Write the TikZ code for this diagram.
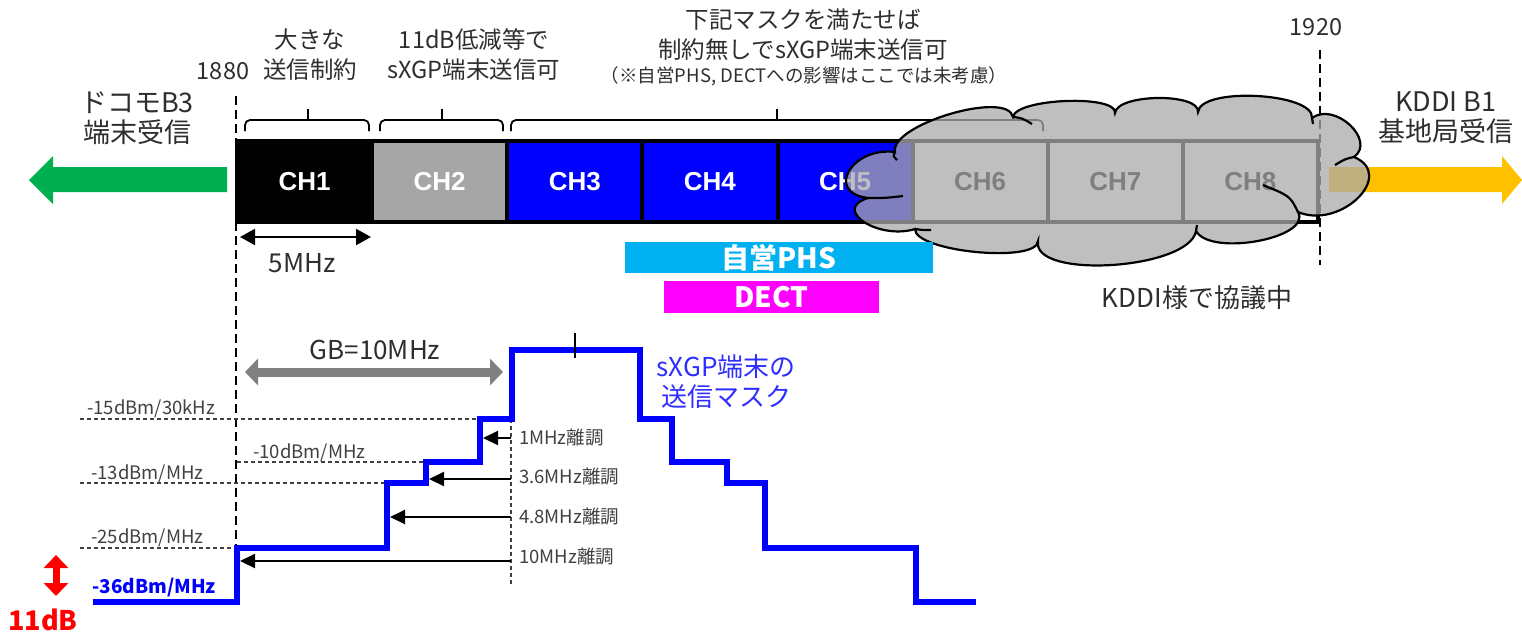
\documentclass[tikz,border=0pt]{standalone}
\usepackage{fontspec}
\setmainfont{Noto Sans CJK JP}
\newfontfamily\chfont{Liberation Sans}
\usetikzlibrary{arrows.meta,calc}
\definecolor{cgreen}{HTML}{00B050}
\definecolor{cyellow}{HTML}{FFC000}
\definecolor{cphs}{HTML}{00B0F0}
\definecolor{cdect}{HTML}{FF00FF}
\definecolor{cchtwo}{HTML}{A6A6A6}
\definecolor{cblue}{HTML}{0000FF}
\definecolor{cgb}{HTML}{808080}
\definecolor{ccloud}{HTML}{AAAAAA}
\definecolor{ctext}{HTML}{2E2E2E}
\definecolor{cdim}{HTML}{404040}
\definecolor{cmask}{HTML}{2E2EFF}
\definecolor{cred}{HTML}{FF0000}
\begin{document}
\begin{tikzpicture}[x=1pt,y=-1pt,
  lbl/.style={font=\fontsize{23.5}{30}\selectfont, text=ctext, align=center, inner sep=0pt},
  biglbl/.style={font=\fontsize{27}{30}\selectfont, text=ctext, align=center, inner sep=0pt},
  midlbl/.style={font=\fontsize{26}{30}\selectfont, text=ctext, align=center, inner sep=0pt},
  notelbl/.style={font=\fontsize{18.5}{22}\selectfont, text=ctext, inner sep=0pt},
  dlbl/.style={font=\fontsize{18.5}{22}\selectfont, text=cdim, inner sep=0pt, anchor=west},
  cell/.style={draw=black, line width=4pt, minimum width=135.125pt, minimum height=81pt, inner sep=0pt,
    font=\chfont\bfseries\fontsize{26}{28}\selectfont, text=white},
  bar/.style={inner sep=0pt, text=white, font=\bfseries\fontsize{28}{30}\selectfont},
  brk/.style={line width=1.8pt, black, rounded corners=5pt},
  bigdash/.style={line width=2.2pt, dash pattern=on 9pt off 5pt, black},
  thindash/.style={line width=1.2pt, dash pattern=on 4pt off 3pt, cdim},
  marr/.style={line width=2pt, black, -{Triangle[length=15pt,width=14pt]}},
  cloudsty/.style={draw=black, line width=2.2pt, fill=ccloud, fill opacity=0.75, draw opacity=1},
  cloudline/.style={draw=black, line width=2.2pt},
  mask/.style={line width=6pt, cblue, line join=miter}
]
\useasboundingbox (0,0) rectangle (1522,633);

% ---------------- top labels
\node[lbl] (t1880) at (223,71) {1880};
\node[lbl] (t1920) at (1316,27) {1920};
\node[lbl] (tch1) at (310,55) {大きな\\送信制約};
\node[lbl] (tch2) at (474,55) {11dB低減等で\\sXGP端末送信可};
\node[lbl] (tch3) at (803,35) {下記マスクを満たせば\\制約無しでsXGP端末送信可};
\node[notelbl] (note) at (804,76) {（※自営PHS, DECTへの影響はここでは未考慮）};
\node[biglbl] (docomo) at (137,118) {ドコモB3\\端末受信};
\node[biglbl] (kddi) at (1446,118) {KDDI B1\\基地局受信};

% ---------------- dashed frequency limits
\draw[bigdash] (236,96) -- (236,548);
\draw[bigdash] (1320,50) -- (1320,265);

% ---------------- brackets
\draw[brk] (245,131) -- (245,120) -- (369,120) -- (369,131);
\draw[brk] (308,120) -- (308,109);
\draw[brk] (380,131) -- (380,120) -- (503,120) -- (503,131);
\draw[brk] (442,120) -- (442,109);
\draw[brk] (511,131) -- (511,120) -- (1043,120) -- (1043,131);
\draw[brk] (777,120) -- (777,109);

% ---------------- side arrows
\fill[cgreen] (227,167) -- (53,167) -- (53,156) -- (29,180) -- (53,204) -- (53,192) -- (227,192) -- cycle;
\fill[cyellow] (1329,167) -- (1502,167) -- (1502,156) -- (1522,180) -- (1502,204) -- (1502,192) -- (1329,192) -- cycle;

% ---------------- channel band
\node[cell, fill=black] (ch1) at (304.56,181.5) {CH1};
\node[cell, fill=cchtwo] (ch2) at (439.69,181.5) {CH2};
\node[cell, fill=cblue] (ch3) at (574.81,181.5) {CH3};
\node[cell, fill=cblue] (ch4) at (709.94,181.5) {CH4};
\node[cell, fill=cblue] (ch5) at (845.06,181.5) {CH5};
\node[cell, fill=white, text=black] (ch6) at (980.19,181.5) {CH6};
\node[cell, fill=white, text=black] (ch7) at (1115.31,181.5) {CH7};
\node[cell, fill=white, text=black] (ch8) at (1250.44,181.5) {CH8};

% ---------------- cloud
\coordinate (c0) at (895,152);
\coordinate (c1) at (1013,117);
\coordinate (c2) at (1115,113);
\coordinate (c3) at (1198,112);
\coordinate (c4) at (1312,118);
\coordinate (c5) at (1354,157);
\coordinate (c6) at (1298,212);
\coordinate (c7) at (1196,231);
\coordinate (c8) at (1038,241);
\coordinate (c9) at (915,229);
\coordinate (c10) at (868,198);
\coordinate (p1) at (950,114);
\coordinate (p2) at (1066,101);
\coordinate (p3) at (1158,98);
\coordinate (p4) at (1257,96);
\coordinate (p5) at (1350,125);
\coordinate (p6) at (1358,198);
\coordinate (p7) at (1258,241);
\coordinate (p8) at (1112,265);
\coordinate (p9) at (976,252);
\coordinate (p10) at (864,222);
\coordinate (p11) at (849,171);
\path[cloudsty] (c0)
 .. controls ($.3333*(c0)+1.3333*(p1)-.6667*(c1)$) and ($1.3333*(p1)+.3333*(c1)-.6667*(c0)$) .. (c1)
 .. controls ($.3333*(c1)+1.3333*(p2)-.6667*(c2)$) and ($1.3333*(p2)+.3333*(c2)-.6667*(c1)$) .. (c2)
 .. controls ($.3333*(c2)+1.3333*(p3)-.6667*(c3)$) and ($1.3333*(p3)+.3333*(c3)-.6667*(c2)$) .. (c3)
 .. controls ($.3333*(c3)+1.3333*(p4)-.6667*(c4)$) and ($1.3333*(p4)+.3333*(c4)-.6667*(c3)$) .. (c4)
 .. controls ($.3333*(c4)+1.3333*(p5)-.6667*(c5)$) and ($1.3333*(p5)+.3333*(c5)-.6667*(c4)$) .. (c5)
 .. controls ($.3333*(c5)+1.3333*(p6)-.6667*(c6)$) and ($1.3333*(p6)+.3333*(c6)-.6667*(c5)$) .. (c6)
 .. controls ($.3333*(c6)+1.3333*(p7)-.6667*(c7)$) and ($1.3333*(p7)+.3333*(c7)-.6667*(c6)$) .. (c7)
 .. controls ($.3333*(c7)+1.3333*(p8)-.6667*(c8)$) and ($1.3333*(p8)+.3333*(c8)-.6667*(c7)$) .. (c8)
 .. controls ($.3333*(c8)+1.3333*(p9)-.6667*(c9)$) and ($1.3333*(p9)+.3333*(c9)-.6667*(c8)$) .. (c9)
 .. controls ($.3333*(c9)+1.3333*(p10)-.6667*(c10)$) and ($1.3333*(p10)+.3333*(c10)-.6667*(c9)$) .. (c10)
 .. controls ($.3333*(c10)+1.3333*(p11)-.6667*(c0)$) and ($1.3333*(p11)+.3333*(c0)-.6667*(c10)$) .. (c0) -- cycle;
\draw[cloudline] (c1) .. controls (1022,118) .. (1032,124);
\draw[cloudline] (c10) .. controls (886,198) .. (903,196);
\draw[cloudline] (c9) .. controls (922,230) .. (931,230);
\draw[cloudline] (c6) .. controls (1290,196) .. (1263,185);
\draw[cloudline] (c5) .. controls (1345,159) .. (1335,165);
\draw[cloudline] (c0) .. controls (893,156) .. (897,160);
\draw[cloudline] (c7) -- (1197,225);
\draw[cloudline] (c4) -- (1313,124);

% ---------------- PHS / DECT bars
\node[bar, fill=cphs, minimum width=308pt, minimum height=31pt] (phs) at (779,257.5) {自営PHS};
\node[bar, fill=cdect, minimum width=215pt, minimum height=32pt] (dect) at (771.5,297) {DECT};
\node[midlbl] (kddinote) at (1197,298) {KDDI様で協議中};

% ---------------- 5 MHz
\coordinate (f0) at (240,237);
\coordinate (f5) at (371,237);
\draw[line width=2.2pt, {Triangle[length=15pt,width=16pt]}-{Triangle[length=15pt,width=16pt]}] (f0) -- (f5);
\node[midlbl] (m5) at (302,263) {5MHz};

% ---------------- guard band
\coordinate (gb0) at (245,372);
\coordinate (gb1) at (503,372);
\draw[line width=9pt, cgb, {Triangle[length=13pt,width=26pt]}-{Triangle[length=13pt,width=26pt]}] (gb0) -- (gb1);
\node[midlbl] (gb) at (375,350) {GB=10MHz};

% ---------------- reference levels
\draw[thindash] (80,419) -- (480,419);
\draw[thindash] (237,462) -- (426,462);
\draw[thindash] (80,483) -- (387,483);
\draw[thindash] (80,548) -- (237,548);
\draw[thindash] (511,419) -- (511,585);
\node[dlbl] (l15) at (87,409) {-15dBm/30kHz};
\node[dlbl] (l10) at (253,453) {-10dBm/MHz};
\node[dlbl] (l13) at (91,474) {-13dBm/MHz};
\node[dlbl] (l25) at (91,538) {-25dBm/MHz};
\node[inner sep=0pt, anchor=west, text=cblue, font=\bfseries\fontsize{19}{22}\selectfont] (l36) at (92,588) {-36dBm/MHz};

% ---------------- mask
\draw[mask] (93,602) -- (237,602) -- (237,548) -- (387,548) -- (387,483) -- (426,483) -- (426,462) -- (480,462) -- (480,419) -- (512,419) -- (512,350) -- (640,350) -- (640,419) -- (672,419) -- (672,462) -- (727,462) -- (727,483) -- (765,483) -- (765,548) -- (916,548) -- (916,602) -- (976,602);
\draw[line width=2pt, black] (575,333) -- (575,358);
\node[midlbl, text=cmask] (masklbl) at (726,382) {sXGP端末の\\送信マスク};

% ---------------- offsets
\coordinate (o1) at (511,438); \coordinate (s1) at (483,438);
\coordinate (o2) at (511,479); \coordinate (s2) at (429,479);
\coordinate (o3) at (511,517); \coordinate (s3) at (390,517);
\coordinate (o4) at (511,561); \coordinate (s4) at (240,561);
\draw[marr] (o1) -- (s1);
\draw[marr] (o2) -- (s2);
\draw[marr] (o3) -- (s3);
\draw[marr] (o4) -- (s4);
\node[dlbl] (r1) at (519,438) {1MHz離調};
\node[dlbl] (r2) at (519,477) {3.6MHz離調};
\node[dlbl] (r3) at (519,517) {4.8MHz離調};
\node[dlbl] (r4) at (519,557) {10MHz離調};

% ---------------- 11 dB
\coordinate (d0) at (56,555);
\coordinate (d1) at (56,596);
\draw[line width=7pt, cred, {Triangle[length=13pt,width=24pt]}-{Triangle[length=13pt,width=24pt]}] (d0) -- (d1);
\node[inner sep=0pt, text=cred, font=\bfseries\fontsize{27}{30}\selectfont] (d11) at (43,620) {11dB};
\end{tikzpicture}
\end{document}
